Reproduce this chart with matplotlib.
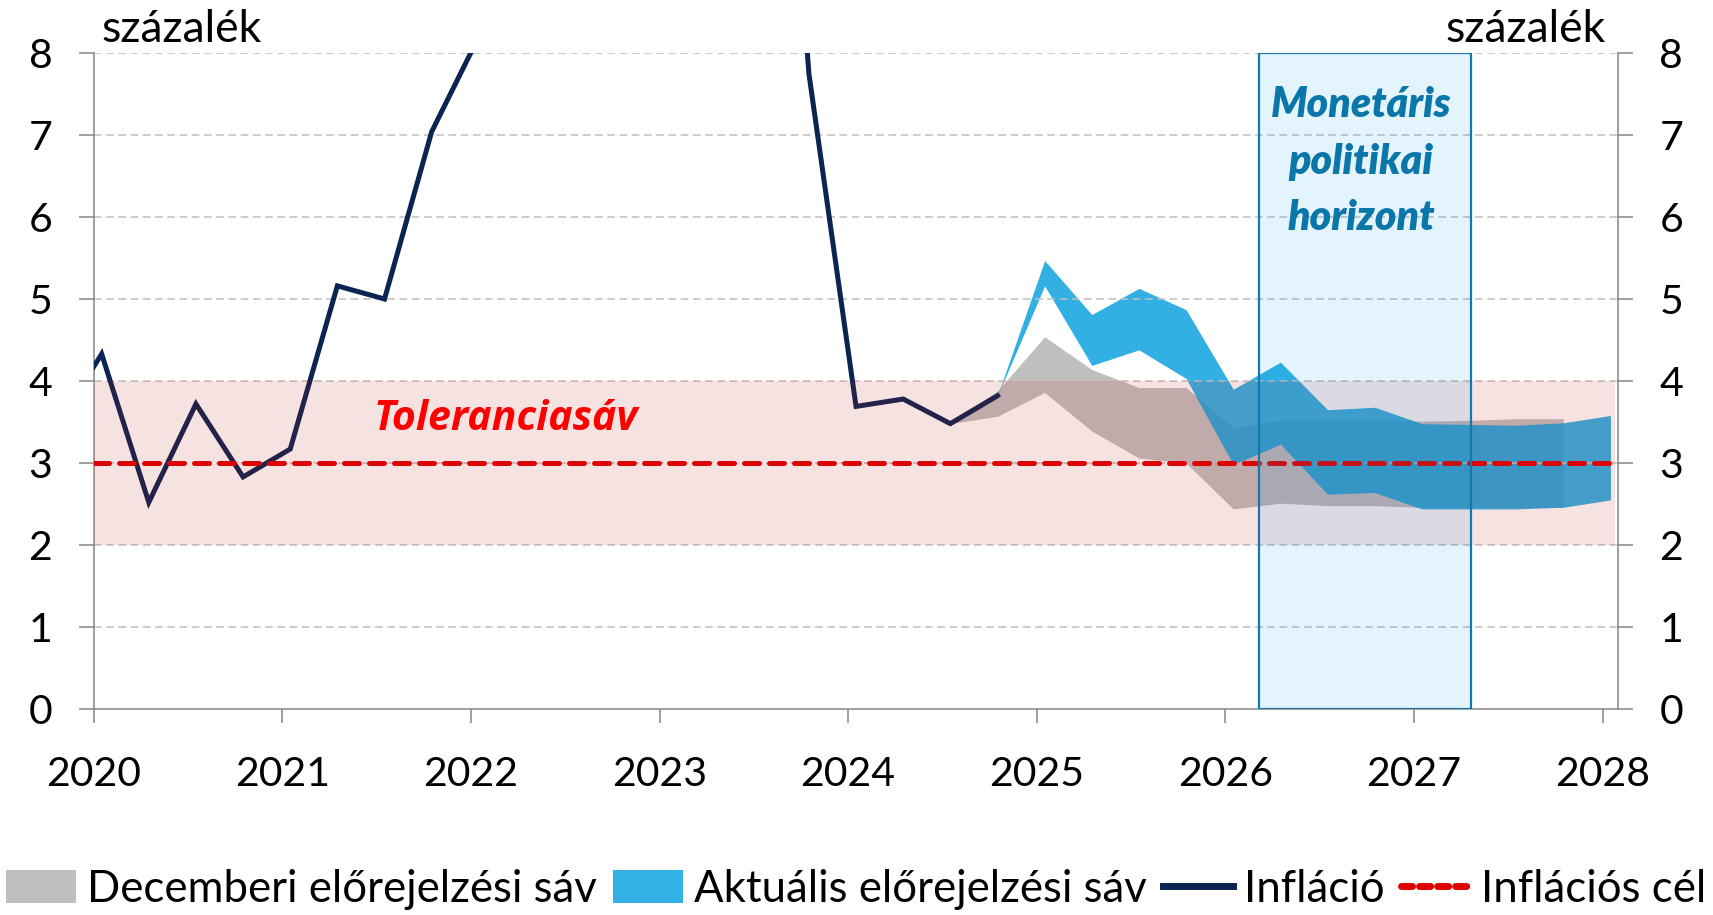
import matplotlib
matplotlib.use("Agg")
import matplotlib.pyplot as plt
from matplotlib.patches import Rectangle, Patch
from matplotlib.lines import Line2D

plt.rcParams['font.family'] = ['Lato', 'DejaVu Sans']

# ---------------- data ----------------
infl_quarters = ["2019Q4",
                 "2020Q1", "2020Q2", "2020Q3", "2020Q4",
                 "2021Q1", "2021Q2", "2021Q3", "2021Q4",
                 "2022Q1", "2022Q2", "2022Q3", "2022Q4",
                 "2023Q1", "2023Q2", "2023Q3", "2023Q4",
                 "2024Q1", "2024Q2", "2024Q3", "2024Q4"]
inflation = [3.4,
             4.33, 2.52, 3.72, 2.83,
             3.17, 5.16, 5.00, 7.04,
             8.2, 10.6, 15.7, 22.6,
             25.4, 21.9, 15.4, 7.75,
             3.69, 3.78, 3.48, 3.82]

dec_quarters = ["2024Q3", "2024Q4",
                "2025Q1", "2025Q2", "2025Q3", "2025Q4",
                "2026Q1", "2026Q2", "2026Q3", "2026Q4",
                "2027Q1", "2027Q2", "2027Q3", "2027Q4"]
dec_low = [3.48, 3.57, 3.86, 3.39, 3.06, 3.00, 2.44, 2.51, 2.48, 2.48, 2.46, 2.46, 2.46, 2.46]
dec_high = [3.48, 3.88, 4.54, 4.14, 3.92, 3.92, 3.43, 3.52, 3.52, 3.53, 3.51, 3.52, 3.54, 3.54]

cur_quarters = ["2024Q4",
                "2025Q1", "2025Q2", "2025Q3", "2025Q4",
                "2026Q1", "2026Q2", "2026Q3", "2026Q4",
                "2027Q1", "2027Q2", "2027Q3", "2027Q4",
                "2028Q1"]
cur_low = [3.82, 5.16, 4.19, 4.38, 4.03, 2.98, 3.23, 2.62, 2.64, 2.44, 2.44, 2.44, 2.46, 2.55]
cur_high = [3.82, 5.47, 4.81, 5.13, 4.87, 3.90, 4.23, 3.65, 3.68, 3.48, 3.47, 3.46, 3.49, 3.58]

target = 3.0
tolerance = (2.0, 4.0)
horizon = (2026.18, 2027.30)
years = list(range(2020, 2029))
yticks = list(range(0, 9))

unit_label = "százalék"
tol_label = "Toleranciasáv"
horizon_lines = ["Monetáris", "politikai", "horizont"]
legend_labels = ["Decemberi előrejelzési sáv", "Aktuális előrejelzési sáv",
                 "Infláció", "Inflációs cél"]


def qpos(q):
    y, n = q.split("Q")
    return int(y) + (int(n) - 1) * 0.25 + 0.042


# ---------------- styling ----------------
NAVY = "#0c2451"
RED = "#e00000"
GREY_BAND = "#bfbfbf"
BLUE_BAND = (15 / 255, 162 / 255, 223 / 255)
HOR_EDGE = "#1478ad"
HOR_TEXT = "#0b76a9"
AXIS_GREY = "#868686"
GRID_GREY = "#bfbfbf"
FS = 29.5

fig = plt.figure(figsize=(17.13, 9.15), dpi=100)
ax = fig.add_axes([0.05470, 0.22514, 0.88984, 0.71694])

xd = [qpos(q) for q in dec_quarters]
xc = [qpos(q) for q in cur_quarters]
xi = [qpos(q) for q in infl_quarters]

ax.fill_between(xd, dec_low, dec_high, color=GREY_BAND, lw=0, zorder=1)
ax.fill_between(xc, cur_low, cur_high, color=BLUE_BAND, alpha=0.85, lw=0, zorder=2)

for t in yticks[1:]:
    ax.axhline(t, color=GRID_GREY, lw=1.1, ls=(0, (5, 3)), zorder=2.5)

ax.plot(xi, inflation, color=NAVY, lw=3.6, solid_joinstyle='miter', zorder=3)
ax.axhline(target, xmin=0, xmax=0.995, color=RED, lw=3.6,
           dashes=(3.0, 2.0), dash_capstyle='round', zorder=3.2)

ax.axhspan(tolerance[0], tolerance[1], xmin=0, xmax=0.998,
           color=(199 / 255, 31 / 255, 31 / 255), alpha=0.125, lw=0, zorder=4)

ax.add_patch(Rectangle((horizon[0], 0), horizon[1] - horizon[0], 8,
                       facecolor=(0, 160 / 255, 230 / 255), alpha=0.11, lw=0, zorder=5))
ax.add_patch(Rectangle((horizon[0], 0), horizon[1] - horizon[0], 8,
                       facecolor='none', edgecolor=HOR_EDGE, lw=1.6, zorder=5.1))

ax.set_xlim(2020, 2028.082)
ax.set_ylim(0, 8)
ax.set_xticks(years)
ax.set_xticklabels([str(y) for y in years])
ax.set_yticks(yticks)
ax.set_yticklabels([str(t) for t in yticks])

for s in ['left', 'right', 'bottom']:
    ax.spines[s].set_color(AXIS_GREY)
    ax.spines[s].set_linewidth(1.1)
ax.spines['top'].set_visible(False)

ax.tick_params(axis='y', which='both', direction='out', length=10.8, width=1.1,
               color=AXIS_GREY, labelsize=FS, pad=19, left=True, right=True,
               labelleft=True, labelright=True)
ax.tick_params(axis='x', direction='out', length=10, width=1.1, color=AXIS_GREY,
               labelsize=FS, pad=24)

ax.text(2020.0 + (506 - 93.7) / 188.6, 3.40, tol_label, color="#ff0000",
        family=['Open Sans', 'Lato', 'DejaVu Sans'],
        fontsize=29.5, fontweight='bold', fontstyle='italic', ha='center', va='baseline',
        zorder=6)

cx = (horizon[0] + horizon[1]) / 2 - 0.02
for i, line in enumerate(horizon_lines):
    ax.text(cx, 7.22 - i * 0.69, line, color=HOR_TEXT, fontsize=29.5,
            fontweight='heavy', fontstyle='italic', ha='center', va='baseline', zorder=6)

fig.text(101 / 1713, 1 - 42 / 915, unit_label, fontsize=32, ha='left', va='baseline')
fig.text(1606 / 1713, 1 - 42 / 915, unit_label, fontsize=32, ha='right', va='baseline')

handles = [Patch(facecolor=GREY_BAND, edgecolor='none'),
           Patch(facecolor="#33b0e4", edgecolor='none'),
           Line2D([], [], color=NAVY, lw=5),
           Line2D([], [], color=RED, lw=5, dashes=(1.6, 1.0), dash_capstyle='round')]
fig.legend(handles, legend_labels, loc='center', bbox_to_anchor=(0.5, 0.028),
           ncol=4, frameon=False, fontsize=31.5, handlelength=1.58, handleheight=0.8,
           handletextpad=0.25, columnspacing=0.39, borderaxespad=0)

fig.savefig("out.png", dpi=100)
